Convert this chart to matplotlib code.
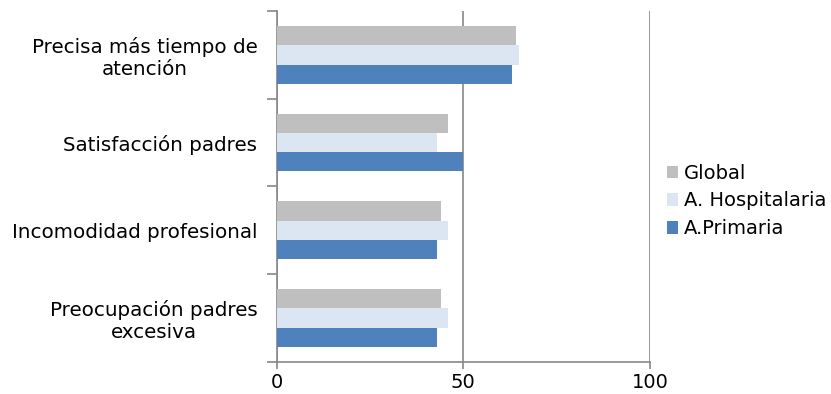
import matplotlib.pyplot as plt
import numpy as np

plt.rcParams['font.family'] = ['DejaVu Sans']

categorias = ["Precisa más tiempo de\natención", "Satisfacción padres",
              "Incomodidad profesional", "Preocupación padres\nexcesiva"]
series = ["Global", "A. Hospitalaria", "A.Primaria"]
global_v = [64, 46, 44, 44]
hospitalaria = [65, 43, 46, 46]
primaria = [63, 50, 43, 43]
colores = ["#BFBFBF", "#DCE6F2", "#4F81BD"]

fig = plt.figure(figsize=(8.31, 3.94), dpi=100)
ax = fig.add_axes([0.333, 0.082, 0.449, 0.890])

y = np.arange(len(categorias))
h = 0.22
for i, (vals, nombre, c) in enumerate(zip([global_v, hospitalaria, primaria], series, colores)):
    ax.barh(y + (i - 1) * h, vals, height=h, color=c, label=nombre, zorder=3)

ax.set_xlim(0, 100)
ax.set_ylim(len(categorias) - 0.5, -0.5)
ax.set_xticks([0, 50, 100])
ax.tick_params(axis='x', labelsize=14, colors='#888888', labelcolor='black', length=5, width=1.2)

# category boundaries as tick marks, labels at the centres
ax.set_yticks(np.arange(-0.5, len(categorias)), minor=False)
ax.set_yticklabels([])
ax.set_yticks(y, minor=True)
ax.set_yticklabels(categorias, minor=True, fontsize=14.3, multialignment='center')
ax.tick_params(axis='y', which='major', length=7, width=1.2, colors='#888888')
ax.tick_params(axis='y', which='minor', length=0, pad=14)

ax.xaxis.grid(True, color='#888888', linewidth=1.2, zorder=0)
for s in ['top', 'right']:
    ax.spines[s].set_visible(False)
for s in ['left', 'bottom']:
    ax.spines[s].set_color('#888888')
    ax.spines[s].set_linewidth(1.2)

ax.legend(loc='center left', bbox_to_anchor=(0.781, 0.49), bbox_transform=fig.transFigure,
          frameon=False, fontsize=14, handlelength=0.6, handleheight=0.6,
          handletextpad=0.3, labelspacing=0.45)

fig.savefig('out.png', dpi=100)
